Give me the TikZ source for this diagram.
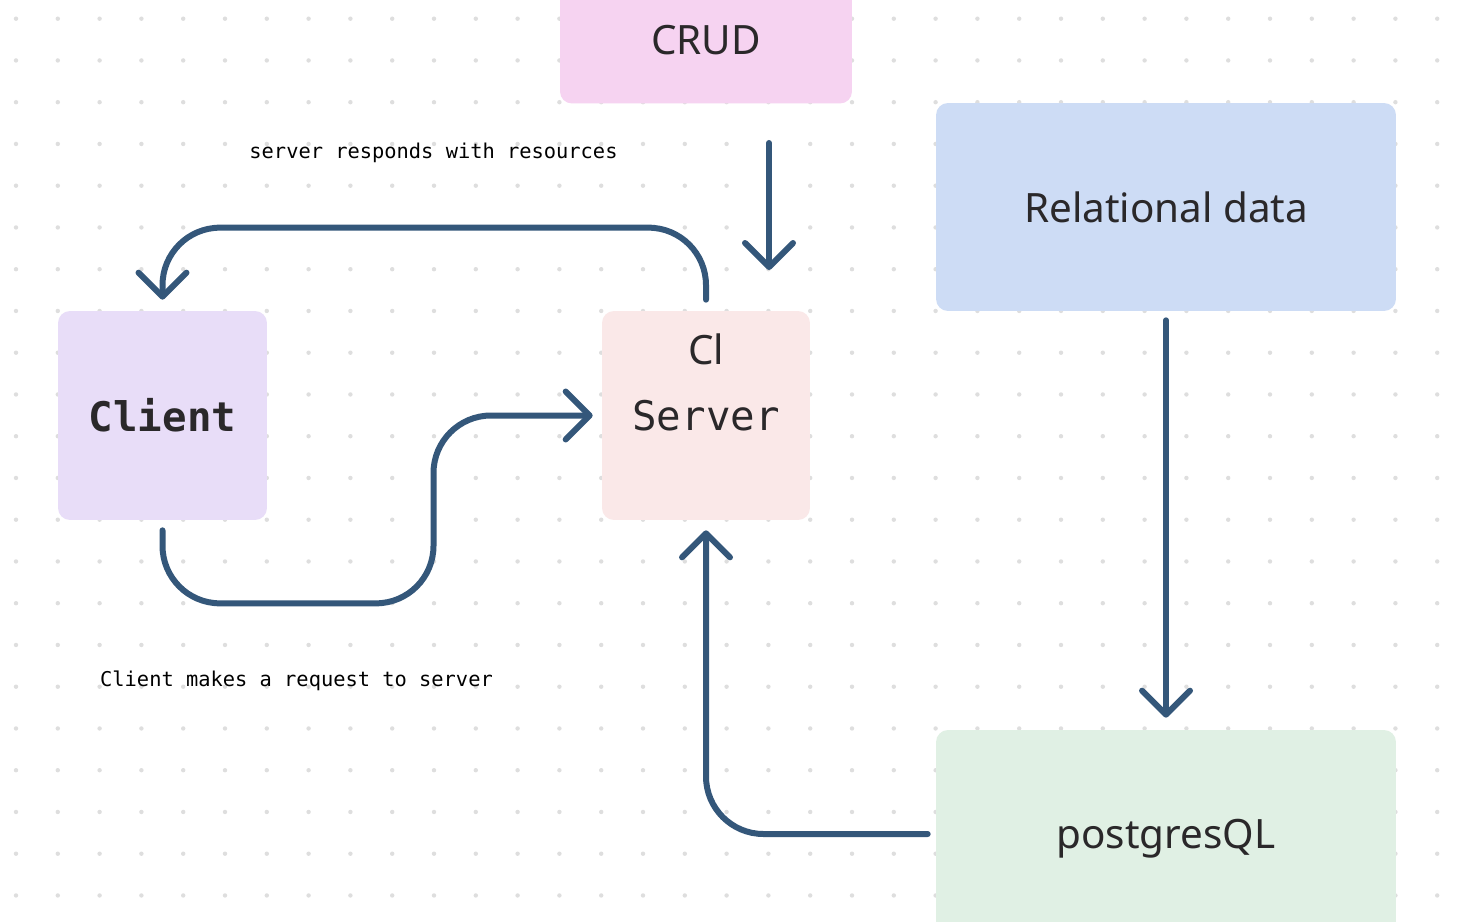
\documentclass[tikz,border=0pt]{standalone}
\usepackage{fontspec}
\setmainfont{Noto Sans}
\setmonofont{DejaVu Sans Mono}
\usetikzlibrary{arrows.meta}
\definecolor{flowc}{RGB}{52,87,122}
\definecolor{dotc}{RGB}{222,222,222}
\definecolor{txtc}{RGB}{42,40,42}
\definecolor{crudc}{RGB}{246,211,241}
\definecolor{relc}{RGB}{205,220,245}
\definecolor{clientc}{RGB}{232,221,248}
\definecolor{serverc}{RGB}{250,232,232}
\definecolor{pgc}{RGB}{224,240,228}
\tikzset{
	box/.style={rectangle, rounded corners=0.24cm, inner sep=0pt, text=txtc},
	bigsans/.style={font=\fontsize{23}{27}\selectfont},
	bigmono/.style={font=\ttfamily\fontsize{23.2}{27}\selectfont},
	boldmono/.style={font=\ttfamily\bfseries\fontsize{23.2}{27}\selectfont},
	note/.style={font=\ttfamily\fontsize{11.6}{14}\selectfont, text=black},
	flow/.style={draw=flowc, line width=0.12cm, line cap=round, line join=round, rounded corners=1.15cm, -{Straight Barb[length=0.48cm, width=0.96cm, round]}}
}

\begin{document}
\begin{tikzpicture}[x=0.02cm, y=-0.02cm]
			\useasboundingbox (0,0) rectangle (1466,922);
			\fill[white] (0,0) rectangle (1466,922);
			\foreach \i in {0,...,34}
				\foreach \j in {0,...,21}
					\fill[dotc] (16+41.8*\i, 18.7+41.75*\j) circle (0.044cm);
			\node[box, bigsans, fill=crudc, minimum width=5.84cm, minimum height=2.54cm] (crud) at (706,40) {CRUD};
			\node[box, bigsans, fill=relc, minimum width=9.2cm, minimum height=4.16cm] (rel) at (1166,207) {Relational data};
			\node[box, boldmono, fill=clientc, minimum width=4.18cm, minimum height=4.18cm] (client) at (162.5,415.5) {Client};
			\node[box, bigmono, fill=serverc, minimum width=4.16cm, minimum height=4.18cm] (server) at (706,415.5) {Server};
			\node[bigsans, text=txtc] (cl) at (706,349) {Cl};
			\node[box, bigsans, fill=pgc, minimum width=9.2cm, minimum height=4.36cm] (pg) at (1166,839) {postgresQL};
			\node[note] (resp) at (433.5,153) {server responds with resources};
			\node[note] (req) at (296.5,681) {Client makes a request to server};
			\coordinate (c1) at (769,143);
			\coordinate (c2) at (769,270);
			\draw[flow] (c1) -- (c2);
			\draw[flow, shorten <=0.22cm, shorten >=0.22cm] (server.north) -- ++(0,-83) -| (client.north);
			\draw[flow, shorten <=0.2cm, shorten >=0.18cm] (client.south) -- ++(0,83) -- ++(271,0) |- (server.west);
			\draw[flow, shorten <=0.18cm, shorten >=0.24cm] (rel.south) -- (pg.north);
			\draw[flow, shorten <=0.16cm, shorten >=0.2cm] (pg.west |- 0,834) -| (server.south);
		\end{tikzpicture}
\end{document}
